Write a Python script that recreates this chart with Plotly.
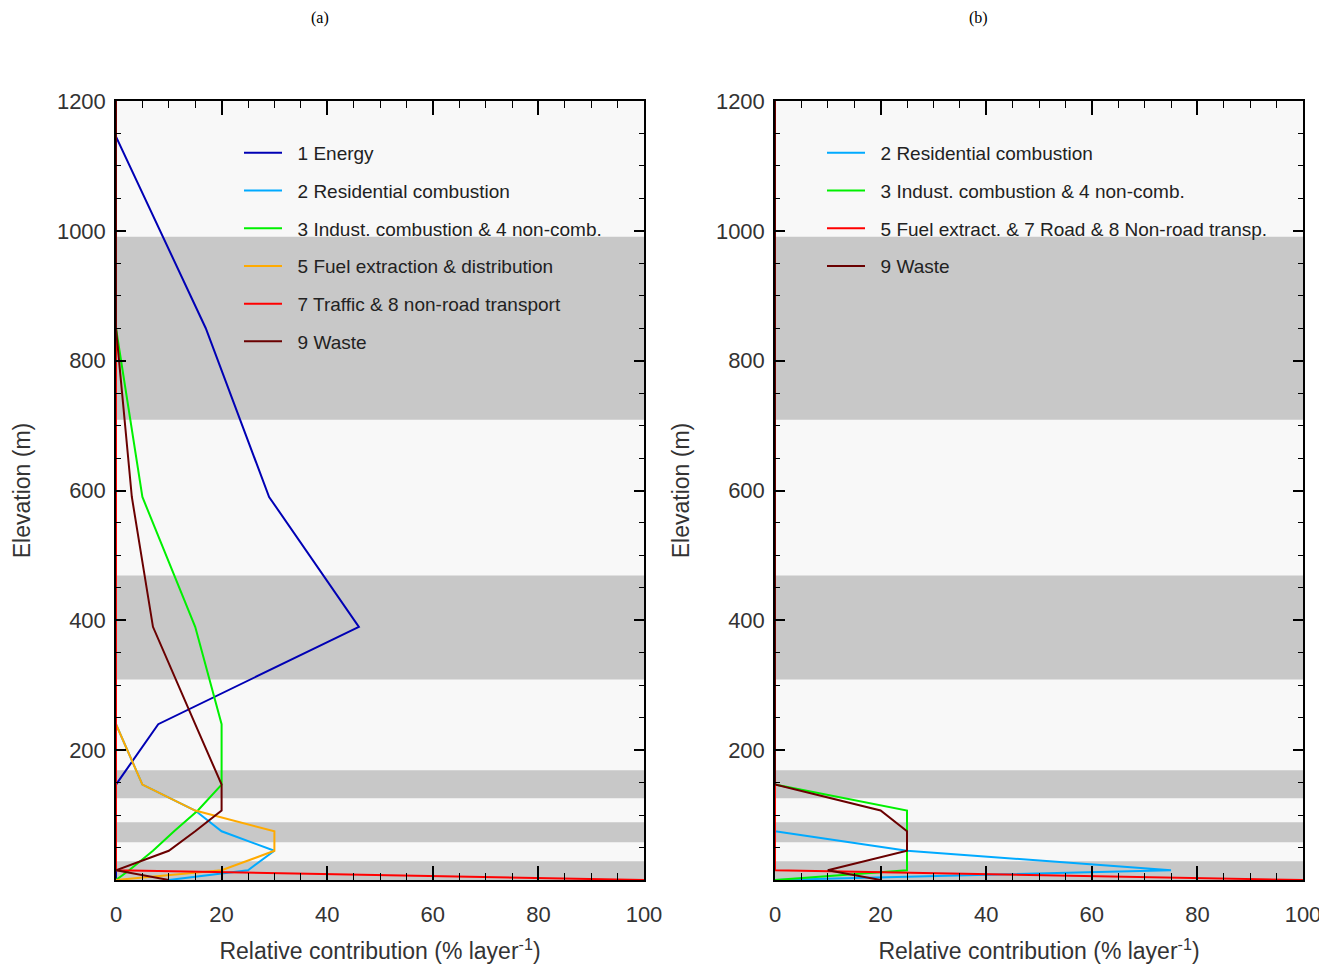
import plotly.graph_objects as go

# ---------------- data ----------------
levels = [0, 15, 45, 75, 107, 147, 240, 390, 590, 850, 1145, 1450]
layer_bounds = [0, 29, 58, 89, 126, 169, 309, 469, 709, 991, 1300]

# panel (a)
energy_a   = [0, 0, 0, 0, 0, 0, 8, 46, 29, 17, 0, 0]
resid_a    = [10, 25, 30, 20, 15, 5, 0, 0, 0, 0, 0, 0]
indust_a   = [0, 2.5, 7, 11, 15.5, 20, 20, 15, 5, 0, 0, 0]
fuel_a     = [0, 20, 30, 30, 15, 5, 0, 0, 0, 0, 0, 0]
traffic_a  = [100, 0, 0, 0, 0, 0, 0, 0, 0, 0, 0, 0]
waste_a    = [10, 0, 10, 15, 20, 20, 15, 7, 3, 0, 0, 0]

# panel (b)
resid_b    = [0, 75, 25, 0, 0, 0, 0, 0, 0, 0, 0, 0]
indust_b   = [0, 25, 25, 25, 25, 0, 0, 0, 0, 0, 0, 0]
road_b     = [100, 0, 0, 0, 0, 0, 0, 0, 0, 0, 0, 0]
waste_b    = [20, 10, 25, 25, 20, 0, 0, 0, 0, 0, 0, 0]

names_a = ["1 Energy", "2 Residential combustion", "3 Indust. combustion & 4 non-comb.",
           "5 Fuel extraction & distribution", "7 Traffic & 8 non-road transport", "9 Waste"]
names_b = ["2 Residential combustion", "3 Indust. combustion & 4 non-comb.",
           "5 Fuel extract. & 7 Road & 8 Non-road transp.", "9 Waste"]

x_ticks = [0, 20, 40, 60, 80, 100]
y_ticks = [200, 400, 600, 800, 1000, 1200]

# ---------------- style ----------------
C_ENERGY = "#0000b4"
C_RESID = "#00aaff"
C_INDUST = "#00f000"
C_FUEL = "#ffaa00"
C_RED = "#ff0000"
C_WASTE = "#6a0000"
BAND_DARK = "#c8c8c8"
BAND_LIGHT = "#f8f8f8"
FONT = "Liberation Sans, Arial, sans-serif"
PAD = "\u00a0\u00a0"  # gap between legend line sample and its label

fig = go.Figure()

series_a = [energy_a, resid_a, indust_a, fuel_a, traffic_a, waste_a]
colors_a = [C_ENERGY, C_RESID, C_INDUST, C_FUEL, C_RED, C_WASTE]
for i, (vals, col, nm) in enumerate(zip(series_a, colors_a, names_a)):
    fig.add_trace(go.Scatter(x=vals, y=levels, mode="lines", name=PAD + nm,
                             line=dict(color=col, width=2), xaxis="x", yaxis="y",
                             legend="legend", legendgroup="a%d" % i))

series_b = [resid_b, indust_b, road_b, waste_b]
colors_b = [C_RESID, C_INDUST, C_RED, C_WASTE]
for i, (vals, col, nm) in enumerate(zip(series_b, colors_b, names_b)):
    fig.add_trace(go.Scatter(x=vals, y=levels, mode="lines", name=PAD + nm,
                             line=dict(color=col, width=2), xaxis="x2", yaxis="y2",
                             legend="legend2", legendgroup="b%d" % i))

# gray layer bands (every other layer, starting with the lowest)
for xr, yr in (("x", "y"), ("x2", "y2")):
    for k in range(0, len(layer_bounds) - 1, 2):
        fig.add_shape(type="rect", xref=xr + " domain", yref=yr,
                      x0=0, x1=1, y0=layer_bounds[k], y1=min(layer_bounds[k + 1], 1200),
                      fillcolor=BAND_DARK, line=dict(width=0), layer="below")

# page has an 8px body margin; offset the figure accordingly
W, H = 1319, 958
OFF = 8
dom_a = [(116 - OFF) / W, (644 - OFF) / W]
dom_b = [(775 - OFF) / W, (1303 - OFF) / W]
dom_y = [(H - (880 - OFF)) / H, (H - (101 - OFF)) / H]

def px(xpix):
    return (xpix - OFF) / W

def py(ypix):
    return 1 - (ypix - OFF) / H

def xaxis(domain, anchor):
    return dict(domain=domain, anchor=anchor, range=[0, 100], tickvals=x_ticks,
                ticks="inside", ticklen=14, tickwidth=1.5, tickcolor="black",
                minor=dict(dtick=5, ticks="inside", ticklen=7, tickwidth=1.2, tickcolor="black"),
                showline=True, linecolor="black", linewidth=1.5, mirror="allticks",
                showgrid=False, zeroline=False,
                tickfont=dict(family=FONT, size=22, color="#333333"),
                ticklabelstandoff=14,
                title=dict(text="Relative contribution (% layer<sup>-1</sup>)",
                           font=dict(family=FONT, size=23, color="#333333"), standoff=17))

def yaxis(domain, anchor):
    return dict(domain=domain, anchor=anchor, range=[0, 1200], tickvals=y_ticks,
                ticks="inside", ticklen=10, tickwidth=1.5, tickcolor="black",
                minor=dict(dtick=50, ticks="inside", ticklen=5, tickwidth=1.2, tickcolor="black"),
                showline=True, linecolor="black", linewidth=1.5, mirror="allticks",
                showgrid=False, zeroline=False,
                tickfont=dict(family=FONT, size=22, color="#333333"),
                ticklabelstandoff=4,
                title=dict(text="Elevation (m)", font=dict(family=FONT, size=23, color="#333333"),
                           standoff=20))

legend_style = dict(bgcolor="rgba(0,0,0,0)", borderwidth=0, tracegroupgap=10,
                    font=dict(family=FONT, size=19, color="#222222"),
                    itemwidth=38, xanchor="left", yanchor="top", traceorder="grouped")

fig.update_layout(
    width=W, height=H,
    margin=dict(l=0, r=0, t=0, b=0, autoexpand=False),
    paper_bgcolor="white", plot_bgcolor=BAND_LIGHT,
    showlegend=True,
    xaxis=xaxis(dom_a, "y"), yaxis=yaxis(dom_y, "x"),
    xaxis2=xaxis(dom_b, "y2"), yaxis2=yaxis(dom_y, "x2"),
    legend=dict(x=px(239), y=py(134), **legend_style),
    legend2=dict(x=px(822), y=py(134), **legend_style),
    annotations=[
        dict(text="(a)", x=px(320), y=py(18), xref="paper", yref="paper",
             xanchor="center", yanchor="middle", showarrow=False,
             font=dict(family="Liberation Serif, Times New Roman, serif", size=16, color="black")),
        dict(text="(b)", x=px(978), y=py(18), xref="paper", yref="paper",
             xanchor="center", yanchor="middle", showarrow=False,
             font=dict(family="Liberation Serif, Times New Roman, serif", size=16, color="black")),
    ],
)

fig.write_html("out.html")
